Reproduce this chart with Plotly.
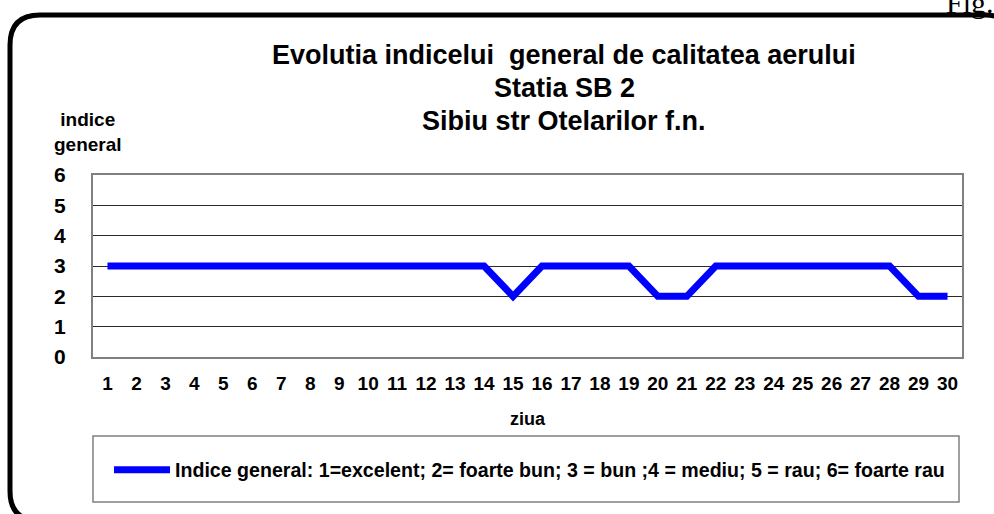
import plotly.graph_objects as go

# ---- data ----
days = [str(d) for d in range(1, 31)]
indice = [3, 3, 3, 3, 3, 3, 3, 3, 3, 3, 3, 3, 3, 3, 2,
          3, 3, 3, 3, 2, 2, 3, 3, 3, 3, 3, 3, 3, 2, 2]
y_ticks = [0, 1, 2, 3, 4, 5, 6]
title_lines = ["Evolutia indicelui  general de calitatea aerului",
               "Statia SB 2",
               "Sibiu str Otelarilor f.n."]
series_name = "Indice general: 1=excelent; 2= foarte bun; 3 = bun ;4 = mediu; 5 = rau; 6= foarte rau"

# ---- geometry ----
W, H = 994, 514
L, R, T, B = 93, 32, 175, 157
PW, PH = W - L - R, H - T - B


def px(x):
    return (x - L) / PW


def py(y):
    return (T + PH - y) / PH


FONT = "Liberation Sans, Arial, sans-serif"

fig = go.Figure()
fig.add_trace(go.Scatter(
    x=days, y=indice, mode="lines", name=f"<b>{series_name}</b>",
    line=dict(color="#0000FF", width=7),
))

# rounded outer frame
x0, y0, x1, y1, r = 10, 15, 1015, 521, 30
path = (f"M{px(x0 + r)},{py(y0)} L{px(x1 - r)},{py(y0)} "
        f"Q{px(x1)},{py(y0)} {px(x1)},{py(y0 + r)} "
        f"L{px(x1)},{py(y1 - r)} Q{px(x1)},{py(y1)} {px(x1 - r)},{py(y1)} "
        f"L{px(x0 + r)},{py(y1)} Q{px(x0)},{py(y1)} {px(x0)},{py(y1 - r)} "
        f"L{px(x0)},{py(y0 + r)} Q{px(x0)},{py(y0)} {px(x0 + r)},{py(y0)} Z")
shapes = [
    dict(type="path", xref="paper", yref="paper", path=path,
         line=dict(color="black", width=5), layer="below"),
    # legend box
    dict(type="rect", xref="paper", yref="paper",
         x0=px(93), x1=px(959), y0=py(436), y1=py(502),
         line=dict(color="#808080", width=1.5), layer="below"),
]

annotations = []
for i, (txt, yc) in enumerate(zip(title_lines, [55, 88, 121])):
    annotations.append(dict(text=f"<b>{txt}</b>", xref="paper", yref="paper",
                            x=px(564), y=py(yc), xanchor="center", yanchor="middle",
                            showarrow=False, font=dict(family=FONT, size=27, color="black")))
annotations.append(dict(text="<b>indice<br>general</b>", xref="paper", yref="paper",
                        x=px(88), y=py(132), xanchor="center", yanchor="middle",
                        showarrow=False, font=dict(family=FONT, size=19, color="black")))
annotations.append(dict(text="Fig.", xref="paper", yref="paper",
                        x=px(944), y=py(21), xanchor="left", yanchor="bottom",
                        showarrow=False, font=dict(family="Liberation Serif, Times New Roman, serif",
                                                   size=30, color="black")))

fig.update_layout(
    width=W, height=H,
    margin=dict(l=L, r=R, t=T, b=B, autoexpand=False),
    paper_bgcolor="white", plot_bgcolor="white",
    font=dict(family=FONT, color="black"),
    showlegend=True,
    legend=dict(x=px(109), y=py(470), xanchor="left", yanchor="middle",
                bgcolor="rgba(0,0,0,0)", borderwidth=0, itemwidth=56,
                font=dict(family=FONT, size=19.6, color="black")),
    shapes=shapes,
    annotations=annotations,
)
fig.update_xaxes(
    type="category", range=[-0.5, 29.5],
    showgrid=False, showline=True, mirror=True,
    linecolor="#808080", linewidth=2, ticks="",
    tickfont=dict(family=FONT, size=19, color="black"),
    ticklabelstandoff=8,
    title=dict(text="<b>ziua</b>", font=dict(family=FONT, size=18, color="black"), standoff=20),
    tickprefix="<b>", ticksuffix="</b>",
)
fig.update_yaxes(
    range=[0, 6], tickvals=y_ticks, ticktext=[f"<b>{v}</b>" for v in y_ticks],
    showgrid=True, gridcolor="#2a2a2a", gridwidth=1,
    showline=True, mirror=True, linecolor="#808080", linewidth=2,
    zeroline=False, ticks="",
    tickfont=dict(family=FONT, size=21, color="black"),
    ticklabelstandoff=21,
)

fig.write_html("out.html", config={"displayModeBar": False},
               post_script="document.body.style.margin='0';")
